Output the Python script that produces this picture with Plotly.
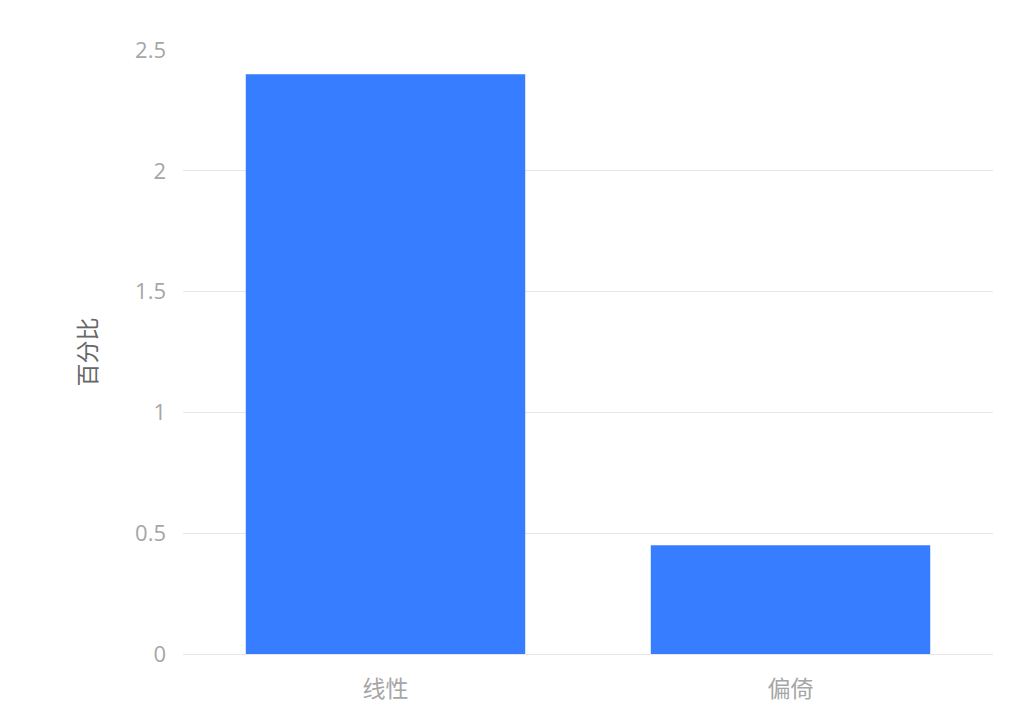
import plotly.graph_objects as go

# ---- data ----
categories = ["线性", "偏倚"]
values = [2.4, 0.45]
y_ticks = [0, 0.5, 1, 1.5, 2, 2.5]
y_tick_labels = ["0", "0.5", "1", "1.5", "2", "2.5"]

BAR_COLOR = "#377dff"
GRID_COLOR = "#e6e6e6"
TICK_COLOR = "#a6a6a6"
FONT = "Open Sans, Noto Sans CJK SC, sans-serif"

fig = go.Figure()
fig.add_trace(go.Bar(
    x=categories, y=values, marker=dict(color=BAR_COLOR, line=dict(width=0)),
    hovertemplate="%{x}: %{y}<extra></extra>",
))

fig.update_layout(
    width=1010, height=725,
    margin=dict(l=175, r=25, t=42, b=79),
    paper_bgcolor="white", plot_bgcolor="white",
    bargap=0.31, showlegend=False,
    font=dict(family=FONT, size=22, color=TICK_COLOR),
)
fig.update_xaxes(
    showgrid=False, showline=True, linecolor=GRID_COLOR, linewidth=1,
    tickfont=dict(size=23, color=TICK_COLOR), ticklabelstandoff=14,
)
fig.update_yaxes(
    range=[0, 2.5], tickvals=y_ticks, ticktext=y_tick_labels,
    showgrid=True, gridcolor=GRID_COLOR, gridwidth=1, zeroline=False,
    tickfont=dict(size=22, color=TICK_COLOR), ticklabelstandoff=16,
    title=dict(text="百分比", font=dict(size=23, color="#666666"), standoff=32),
)

fig.write_html("out.html")
